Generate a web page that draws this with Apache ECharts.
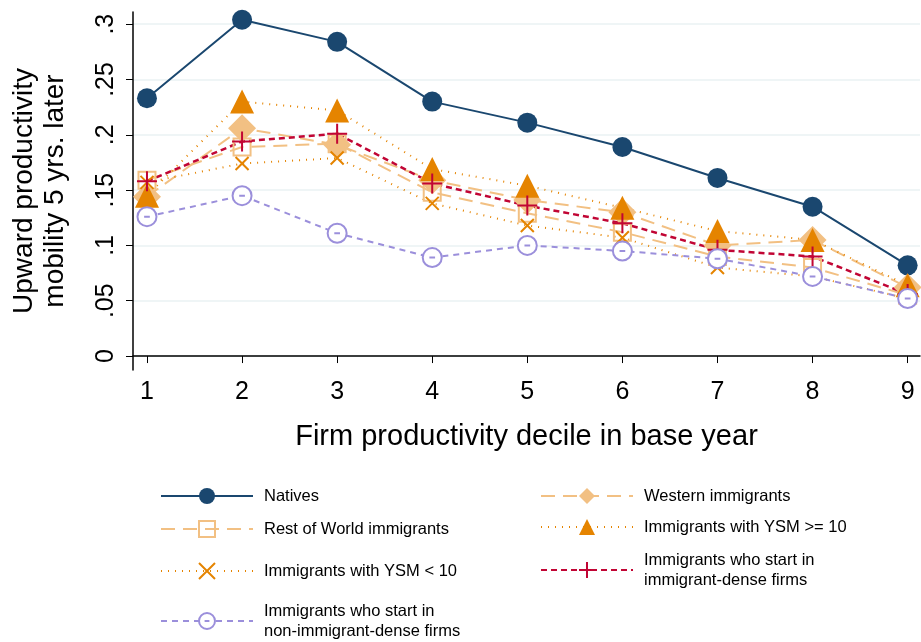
<!DOCTYPE html>
<html>
<head>
<meta charset="utf-8">
<script src="https://cdn.jsdelivr.net/npm/echarts@6/dist/echarts.min.js"></script>
<style>html,body{margin:0;background:#fff}#chart{width:921px;height:642px}</style>
</head>
<body>
<div id="chart"></div>
<script>
const deciles = [1, 2, 3, 4, 5, 6, 7, 8, 9]
const yTicks = [0, 0.05, 0.1, 0.15, 0.2, 0.25, 0.3]
const natives = [0.233, 0.304, 0.284, 0.230, 0.211, 0.189, 0.161, 0.135, 0.082]
const western = [0.144, 0.206, 0.191, 0.159, 0.141, 0.130, 0.100, 0.105, 0.062]
const restWorld = [0.159, 0.189, 0.192, 0.148, 0.129, 0.112, 0.090, 0.080, 0.055]
const ysmHigh = [0.145, 0.230, 0.222, 0.169, 0.154, 0.134, 0.113, 0.105, 0.064]
const ysmLow = [0.157, 0.174, 0.179, 0.138, 0.118, 0.107, 0.080, 0.072, 0.052]
const dense = [0.158, 0.194, 0.201, 0.156, 0.136, 0.120, 0.096, 0.090, 0.056]
const nonDense = [0.126, 0.145, 0.111, 0.089, 0.100, 0.095, 0.088, 0.072, 0.052]

const font = 'Liberation Sans, Arial, sans-serif'
const pts = arr => arr.map((v, i) => [deciles[i], v])
const crossPath = 'path://M0,0L10,10M10,0L0,10'
const plusPath = 'path://M5,0L5,10M0,5L10,5'
const ringPath = 'path://M0,10A10,10,0,1,1,20,10A10,10,0,1,1,0,10ZM7,10L13,10'

function mk(name, data, col, dash, width, symbol, size, fill) {
  return {
    type: 'line', name, data: pts(data), symbol, symbolSize: size, symbolKeepAspect: true,
    showSymbol: true, color: col,
    lineStyle: { color: col, width, type: dash },
    itemStyle: fill ? { color: col } : { color: fill === null ? '#fff' : 'rgba(0,0,0,0)', borderColor: col, borderWidth: 2 }
  }
}

const series = [
  mk('Natives', natives, '#1a476f', 'solid', 2, 'circle', 20, true),
  mk('Western immigrants', western, '#f2c083', [14, 8], 2, 'diamond', 28, true),
  mk('Rest of World immigrants', restWorld, '#f2c083', [14, 8], 2, 'rect', 17, false),
  mk('Immigrants with YSM >= 10', ysmHigh, '#e58400', [1, 6], 2, 'triangle', 24, true),
  mk('Immigrants with YSM < 10', ysmLow, '#e58400', [1, 6], 2, crossPath, 13, false),
  mk('Immigrants who start in\nimmigrant-dense firms', dense, '#c10534', [6, 4], 2.5, plusPath, 20, false),
  mk('Immigrants who start in\nnon-immigrant-dense firms', nonDense, '#9b8fdb', [6, 5], 2, ringPath, 19, null)
]

const legendPos = [
  [155, 481], [535, 481], [155, 514], [535, 512], [155, 556], [535, 545], [155, 596]
]
const legend = series.map((s, i) => ({
  data: [s.name], left: legendPos[i][0], top: legendPos[i][1], itemWidth: 92, itemHeight: 20,
  selectedMode: false,
  textStyle: { fontFamily: font, fontSize: 16.5, color: '#000', lineHeight: 20, padding: [0, 0, 0, 6] }
}))

const chart = echarts.init(document.getElementById('chart'))
chart.setOption({
  animation: false,
  grid: { left: 133, right: 1, top: 12, bottom: 272, outerBoundsMode: 'none', containLabel: false },
  legend,
  xAxis: {
    type: 'value', min: 0.853, max: 9.13,
    name: 'Firm productivity decile in base year', nameLocation: 'middle', nameGap: 52,
    nameTextStyle: { fontFamily: font, fontSize: 29, color: '#000' },
    axisLine: { lineStyle: { color: '#000', width: 1.5 } },
    axisTick: { show: true, length: 7, lineStyle: { color: '#000' }, customValues: deciles },
    axisLabel: { fontFamily: font, fontSize: 25, color: '#000', margin: 10, customValues: deciles },
    splitLine: { show: false }
  },
  yAxis: {
    type: 'value', min: -0.0126, max: 0.311,
    name: 'Upward productivity\nmobility 5 yrs. later', nameLocation: 'middle', nameGap: 62,
    nameTextStyle: { fontFamily: font, fontSize: 28, color: '#000', lineHeight: 31 },
    axisLine: { show: true, lineStyle: { color: '#000', width: 1.5 } },
    axisTick: { show: true, length: 7, lineStyle: { color: '#000' }, customValues: yTicks },
    axisLabel: { fontFamily: font, fontSize: 25, color: '#000', rotate: 90, margin: 14,
      customValues: yTicks, formatter: v => v === 0 ? '0' : String(+v.toFixed(2)).replace(/^0/, '') },
    splitLine: { show: true, lineStyle: { color: '#eaf2f3', width: 1.5 } }
  },
  series
})
</script>
</body>
</html>
